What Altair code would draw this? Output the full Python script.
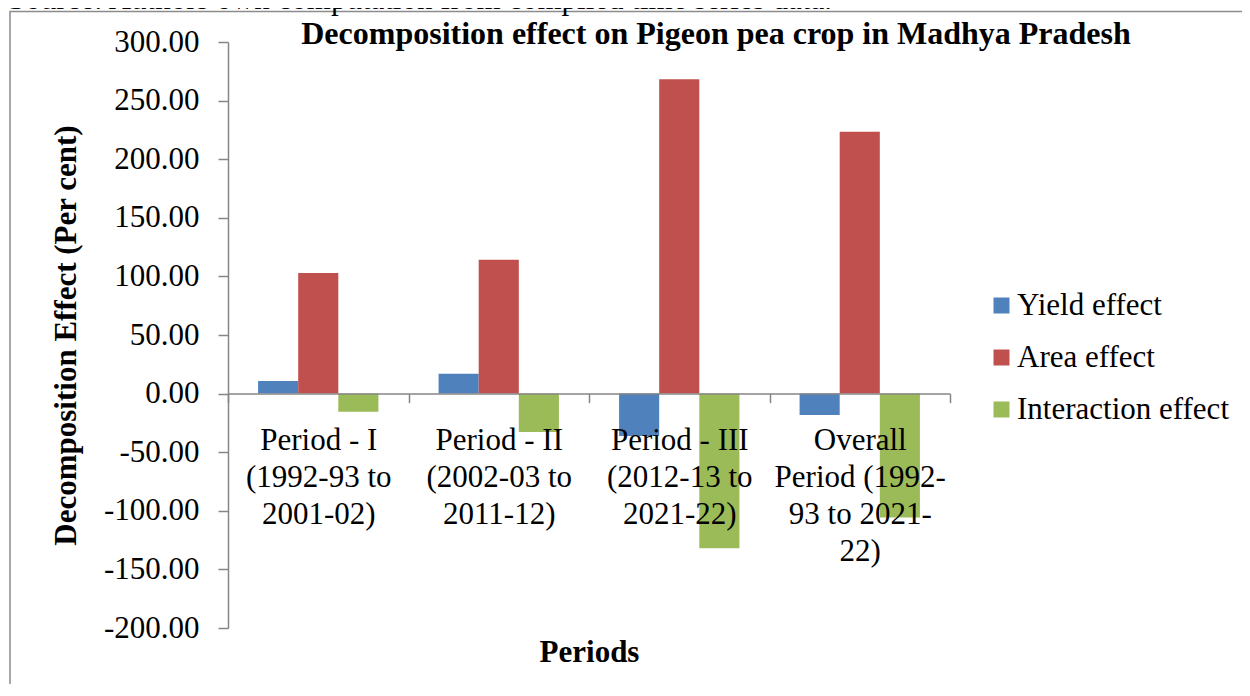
import altair as alt
import pandas as pd

# ---- data ----
categories = [
    "Period - I|(1992-93 to|2001-02)",
    "Period - II|(2002-03 to|2011-12)",
    "Period - III|(2012-13 to|2021-22)",
    "Overall|Period (1992-|93 to 2021-|22)",
]
series = ["Yield effect", "Area effect", "Interaction effect"]
yield_effect = [10.8, 17.0, -36.1, -18.2]
area_effect = [103.0, 114.3, 268.3, 223.4]
interaction_effect = [-15.4, -32.7, -131.9, -105.8]
colors = ["#4F81BD", "#C0504D", "#9BBB59"]
y_ticks = [-200, -150, -100, -50, 0, 50, 100, 150, 200, 250, 300]
chart_title = "Decomposition effect on Pigeon pea crop in Madhya Pradesh"
source_text = "Source: Authors own computation from compiled time series data."
x_title = "Periods"
y_title = "Decomposition Effect (Per cent)"

rows = []
for s, vals in zip(series, [yield_effect, area_effect, interaction_effect]):
    for c, v in zip(categories, vals):
        rows.append({"category": c, "series": s, "value": v})
df = pd.DataFrame(rows)

FONT = "Liberation Serif"
GREY = "#868686"
W, H = 722, 586

bars = alt.Chart(df).mark_bar().encode(
    x=alt.X(
        "category:N",
        sort=categories,
        scale=alt.Scale(paddingInner=0, paddingOuter=0),
        axis=alt.Axis(
            orient="bottom",
            offset=-0.4 * H,
            labelExpr="split(datum.label, '|')",
            labelAngle=0,
            labelFont=FONT,
            labelFontSize=31,
            labelColor="black",
            labelLineHeight=37,
            labelPadding=23,
            labelBaseline="top",
            labelOverlap=False,
            labelLimit=400,
            tickBand="extent",
            tickSize=9,
            tickColor=GREY,
            tickWidth=1.5,
            domainColor=GREY,
            domainWidth=1.5,
            zindex=1,
            title=x_title,
            titleFont=FONT,
            titleFontSize=31,
            titleFontWeight="bold",
            titleColor="black",
            titleX=W / 2,
            titleY=268,
            titleAlign="center",
            titleBaseline="alphabetic",
        ),
    ),
    xOffset=alt.XOffset(
        "series:N", sort=series, scale=alt.Scale(paddingInner=0, paddingOuter=0.75)
    ),
    y=alt.Y(
        "value:Q",
        scale=alt.Scale(domain=[-200, 300], nice=False, zero=False),
        axis=alt.Axis(
            values=y_ticks,
            labelExpr="(datum.value < 0 ? '-' : '') + format(abs(datum.value), '.2f')",
            labelFont=FONT,
            labelFontSize=31,
            labelColor="black",
            labelPadding=19,
            tickSize=10,
            tickColor=GREY,
            tickWidth=1.5,
            domainColor=GREY,
            domainWidth=1.5,
            grid=False,
            title=y_title,
            titleFont=FONT,
            titleFontSize=31,
            titleFontWeight="bold",
            titleColor="black",
            titleAngle=270,
            titleX=-161.5,
            titleY=H / 2,
            titleAlign="center",
            titleBaseline="middle",
        ),
    ),
    color=alt.Color(
        "series:N",
        sort=series,
        scale=alt.Scale(domain=series, range=colors),
        legend=alt.Legend(
            title=None,
            orient="none",
            legendX=758,
            legendY=248,
            symbolType="square",
            symbolSize=256,
            symbolStrokeWidth=0,
            labelFont=FONT,
            labelFontSize=31,
            labelColor="black",
            labelOffset=0,
            rowPadding=20,
            padding=0,
            labelLimit=400,
        ),
    ),
)

frame = alt.Chart(alt.Data(values=[{"f": 1}])).mark_rect(
    fillOpacity=0, stroke="#8c8c8c", strokeWidth=1.5
).encode(
    x=alt.value(-218), x2=alt.value(W + 400), y=alt.value(-30.5), y2=alt.value(H + 300)
)

title_layer = alt.Chart(alt.Data(values=[{"t": chart_title}])).mark_text(
    font=FONT, fontSize=32, fontWeight="bold", color="black",
    align="center", baseline="alphabetic"
).encode(x=alt.value(488), y=alt.value(2), text="t:N")

source_layer = alt.Chart(alt.Data(values=[{"t": source_text}])).mark_text(
    font=FONT, fontSize=31, color="black", align="left", baseline="alphabetic"
).encode(x=alt.value(-220), y=alt.value(-33), text="t:N")

chart = alt.layer(frame, bars, title_layer, source_layer).properties(
    width=W,
    height=H,
    padding={"left": 220, "top": 34, "right": 292, "bottom": 56},
    autosize=alt.AutoSizeParams(type="none"),
    background="white",
).configure_view(strokeOpacity=0)

chart.save("out.html", embed_options={"renderer": "svg", "actions": False})
